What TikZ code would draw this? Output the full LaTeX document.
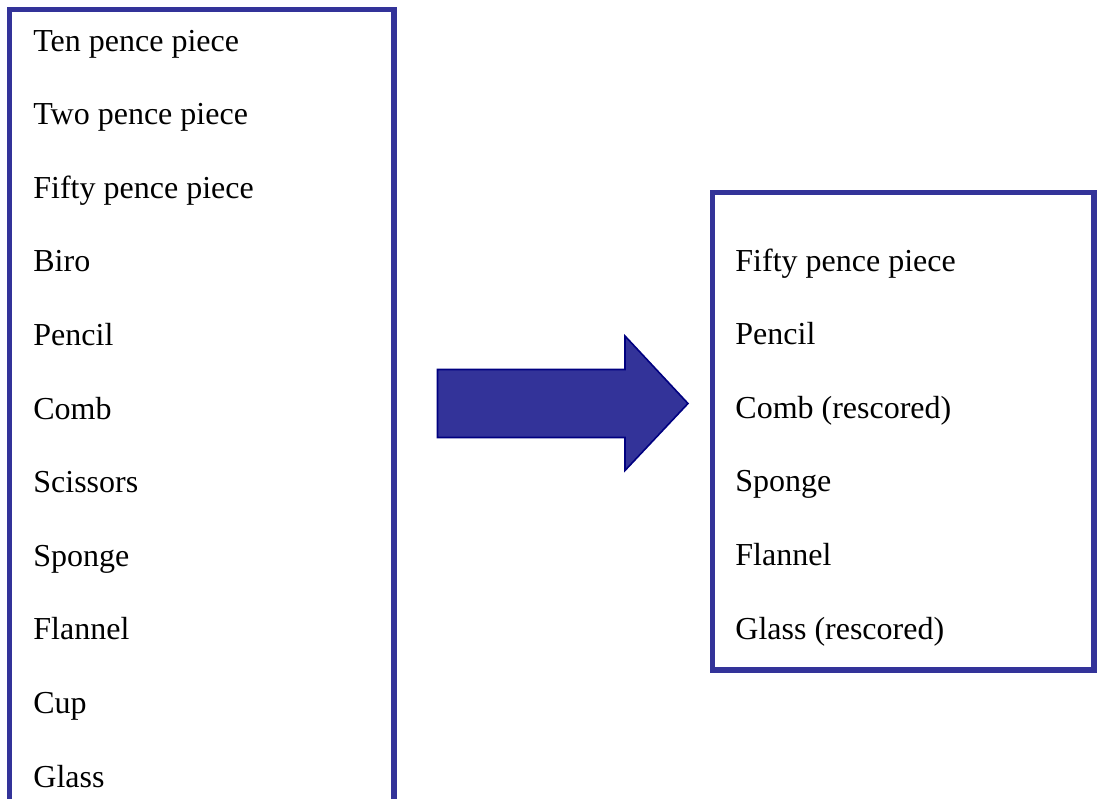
\documentclass[tikz,border=0pt]{standalone}
\usepackage{fontspec}
\setmainfont{Liberation Serif}
\definecolor{boxblue}{HTML}{333399}
\definecolor{arrowedge}{HTML}{000080}
\begin{document}
\begin{tikzpicture}[
		x=0.5pt, y=-0.5pt,
		frame/.style={draw=boxblue, line width=2.6pt},
		item/.style={anchor=base west, inner sep=0pt, font=\fontsize{16}{19}\selectfont},
		bigarrow/.style={fill=boxblue, draw=arrowedge, line width=0.8pt, line join=miter},
	]
	\useasboundingbox (0,0) rectangle (1097,798);
	\clip (0,0) rectangle (1097,798);

	% ---------- left box: all items ----------
	\draw[frame] (9.5,9.5) rectangle (394,830);
	\foreach \txt [count=\i] in {Ten pence piece, Two pence piece, Fifty pence piece,
		Biro, Pencil, Comb, Scissors, Sponge, Flannel, Cup, Glass}
		\node[item] (all\i) at (33,{51+73.6*(\i-1)}) {\txt};

	% ---------- arrow ----------
	\coordinate (tailtop) at (437.5,369.5);
	\coordinate (tip) at (688,403.5);
	\draw[bigarrow] (tailtop) -- (625,369.5) -- (625,336) -- (tip)
		-- (625,470.5) -- (625,437.5) -- (437.5,437.5) -- cycle;

	% ---------- right box: kept items ----------
	\draw[frame] (712.5,192.5) rectangle (1094,670);
	\foreach \txt [count=\i] in {Fifty pence piece, Pencil, Comb (rescored),
		Sponge, Flannel, Glass (rescored)}
		\node[item] (kept\i) at (735,{271+73.6*(\i-1)}) {\txt};

\end{tikzpicture}
\end{document}
